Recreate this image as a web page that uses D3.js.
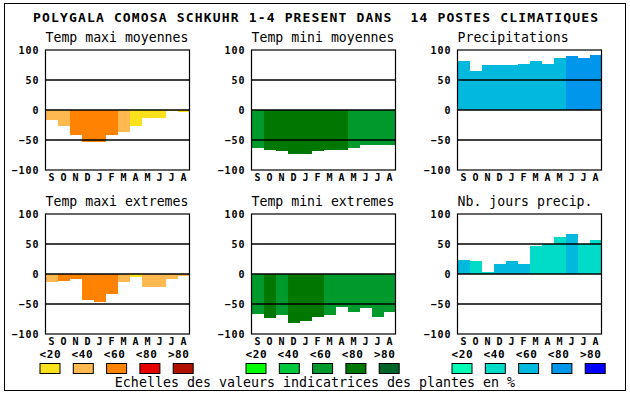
<!DOCTYPE html>
<html><head><meta charset="utf-8">
<script src="https://cdn.jsdelivr.net/npm/d3@7"></script>
<style>body{margin:0;background:#fff}svg{display:block}</style>
</head><body>
<script>
const months = ["S","O","N","D","J","F","M","A","M","J","J","A"];
const yTicks = [100,50,0,-50,-100];
const gridValues = [50,0,-50];
const titleText = "POLYGALA COMOSA SCHKUHR 1-4 PRESENT DANS  14 POSTES CLIMATIQUES";
const panelTitles = ["Temp maxi moyennes","Temp mini moyennes","Precipitations","Temp maxi extremes","Temp mini extremes","Nb. jours precip."];
const tmaxMoy = [-17,-27,-42,-54,-53,-41,-36,-26,-14,-14,-2,-4];
const tmaxMoyClass = [1,1,2,2,2,2,1,0,0,0,0,0];
const tminMoy = [-64,-66,-68,-73,-73,-68,-66,-66,-63,-58,-58,-58];
const tminMoyClass = [2,3,3,3,3,3,3,3,2,2,2,2];
const precip = [82,65,75,75,75,77,82,77,87,90,87,92];
const precipClass = [2,2,2,2,2,2,2,2,2,3,3,3];
const tmaxExt = [-14,-12,-8,-44,-46,-34,-14,-5,-22,-22,-8,-4];
const tmaxExtClass = [1,2,2,2,2,2,1,0,1,1,1,1];
const tminExt = [-66,-73,-68,-81,-78,-71,-68,-55,-64,-56,-71,-64];
const tminExtClass = [2,3,2,3,3,3,2,2,2,2,2,2];
const joursPrecip = [24,21,4,17,22,16,46,50,62,67,50,57];
const joursPrecipClass = [2,1,1,2,2,2,1,1,1,2,1,1];
const scaleLabels = ["<20","<40","<60","<80",">80"];
const tempMaxColors = ["#f9e11b","#ffb950","#ff8200","#e60000","#b01000"];
const tempMinColors = ["#00ff00","#00c83c","#009a2c","#007700","#006428"];
const precipColors  = ["#00ffb4","#00dcc8","#00b9dc","#0096eb","#0000ff"];
const footerText = "Echelles des valeurs indicatrices des plantes en %";

const W = 630, H = 394;
const svg = d3.select("body").append("svg").attr("width", W).attr("height", H);

svg.append("rect").attr("x",4.5).attr("y",3.5).attr("width",621).attr("height",387)
  .attr("fill","none").attr("stroke","#000").attr("stroke-width",1);

svg.append("text").attr("x",33).attr("y",18).attr("dominant-baseline","middle")
  .attr("textLength",565).attr("lengthAdjust","spacing")
  .style("white-space","pre").attr("xml:space","preserve")
  .style("font-family","DejaVu Sans Mono").style("font-weight","bold").style("font-size","13px")
  .text(titleText);

const colLefts = [45.5, 251.5, 457.5];
const rowTops = [50, 214];
const pw = 144, ph = 120;
const palettes = [tempMaxColors, tempMinColors, precipColors];

const panels = [
  {t:panelTitles[0], v:tmaxMoy, c:tmaxMoyClass, pal:0, col:0, row:0},
  {t:panelTitles[1], v:tminMoy, c:tminMoyClass, pal:1, col:1, row:0},
  {t:panelTitles[2], v:precip, c:precipClass, pal:2, col:2, row:0},
  {t:panelTitles[3], v:tmaxExt, c:tmaxExtClass, pal:0, col:0, row:1},
  {t:panelTitles[4], v:tminExt, c:tminExtClass, pal:1, col:1, row:1},
  {t:panelTitles[5], v:joursPrecip, c:joursPrecipClass, pal:2, col:2, row:1}
];

const smallFont = g => g.style("font-family","DejaVu Sans Mono").style("font-weight","bold")
  .style("font-size","10px").style("letter-spacing","1px");

panels.forEach(p => {
  const x0 = colLefts[p.col], y0 = rowTops[p.row];
  const g = svg.append("g").attr("transform",`translate(${x0},${y0})`);
  const x = d3.scaleBand().domain(d3.range(months.length)).range([0,pw]).padding(0);
  const y = d3.scaleLinear().domain([-100,100]).range([ph,0]);
  const pal = palettes[p.pal];

  g.append("text").attr("x",0).attr("y",-8)
    .style("font-family","DejaVu Sans Mono").style("font-size","13.2px").text(p.t);

  g.append("g").selectAll("rect").data(p.v).join("rect")
    .attr("x",(d,i)=>x(i)).attr("width",x.bandwidth()+0.3)
    .attr("y",d=>Math.min(y(0),y(d))).attr("height",d=>Math.abs(y(d)-y(0)))
    .attr("fill",(d,i)=>pal[p.c[i]]).attr("shape-rendering","crispEdges");

  g.append("g").selectAll("line").data(gridValues).join("line")
    .attr("x1",0).attr("x2",pw).attr("y1",d=>y(d)).attr("y2",d=>y(d))
    .attr("stroke","#000").attr("stroke-width",1.4);

  g.append("rect").attr("x",0).attr("y",0).attr("width",pw).attr("height",ph)
    .attr("fill","none").attr("stroke","#000").attr("stroke-width",1.2);

  const ya = g.append("g").call(d3.axisLeft(y).tickValues(yTicks).tickSize(0).tickPadding(7).tickFormat(d3.format("d")));
  ya.select(".domain").remove();
  ya.selectAll("text").call(smallFont).attr("fill","#000").attr("dy","0.36em").attr("x",-6);

  const xa = g.append("g").attr("transform",`translate(0,${ph})`)
    .call(d3.axisBottom(x).tickSize(0).tickPadding(4).tickFormat(i=>months[i]));
  xa.select(".domain").remove();
  xa.selectAll("text").call(smallFont).attr("fill","#000").style("letter-spacing","0px");
});

// legend
const swStep = 33.3, lbStep = 32.1;
palettes.forEach((pal, gi) => {
  const gx = colLefts[gi] - 6;
  const lg = svg.append("g");
  lg.selectAll("text").data(scaleLabels).join("text")
    .attr("x",(d,i)=>gx + i*lbStep).attr("y",354.5).attr("dominant-baseline","middle")
    .call(smallFont).style("letter-spacing","0.6px").style("font-size","11px").text(d=>d);
  lg.selectAll("rect").data(pal).join("rect")
    .attr("x",(d,i)=>gx + i*swStep + 0.5).attr("y",363.5).attr("width",20).attr("height",10)
    .attr("fill",d=>d).attr("stroke","#000").attr("stroke-width",1);
});

svg.append("text").attr("x",315).attr("y",382.5).attr("text-anchor","middle").attr("dominant-baseline","middle")
  .style("font-family","DejaVu Sans Mono").style("font-size","13.3px").text(footerText);
</script>
</body></html>
